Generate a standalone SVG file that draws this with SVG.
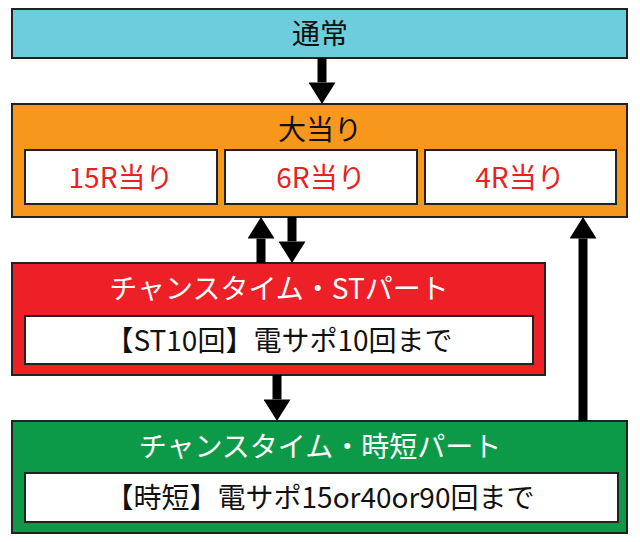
<svg xmlns="http://www.w3.org/2000/svg" width="640" height="542" viewBox="0 0 640 542">
<style>
.b{stroke:#222;stroke-width:2}
.w{fill:#fff;stroke:#222;stroke-width:2}
text{font-family:"Noto Sans CJK JP","Noto Sans",sans-serif;text-anchor:middle;font-size:28px}
.k{fill:#111}.r{fill:#e8231f}.wt{fill:#fff}
</style>
<defs><marker id="a" markerWidth="2.4" markerHeight="3" refX="0" refY="1.5" orient="auto" markerUnits="strokeWidth"><path d="M0,0L2.4,1.5L0,3z" fill="#000"/></marker></defs>
<g id="tsujo"><rect class="b" x="12" y="9" width="615" height="49" fill="#6ecddd"/><text class="k" x="320" y="44">通常</text></g>
<g id="ooatari"><rect class="b" x="12" y="104" width="615" height="113" fill="#f7981d"/><text class="k" x="320" y="140">大当り</text>
<rect class="w" x="25" y="150" width="192" height="54"/><text class="r" x="121" y="188">15R当り</text>
<rect class="w" x="225" y="150" width="192" height="54"/><text class="r" x="321" y="188">6R当り</text>
<rect class="w" x="425" y="150" width="191" height="54"/><text class="r" x="520" y="188">4R当り</text></g>
<g id="st"><rect class="b" x="12" y="263" width="533" height="112" fill="#ec2026"/><text class="wt" x="279" y="299">チャンスタイム・STパート</text>
<rect class="w" x="25" y="316" width="508" height="48"/><text class="k" x="279" y="351">【ST10回】電サポ10回まで</text></g>
<g id="jitan"><rect class="b" x="12" y="421" width="615" height="112" fill="#0d9a48"/><text class="wt" x="320" y="457">チャンスタイム・時短パート</text>
<rect class="w" x="25" y="473" width="593" height="49"/><text class="k" x="320" y="508">【時短】電サポ15or40or90回まで</text></g>
<g id="connectors" stroke="#000" stroke-width="9" marker-end="url(#a)">
<line x1="322" y1="58" x2="322" y2="82.4"/>
<line x1="261" y1="263" x2="261" y2="238.6"/>
<line x1="292" y1="217" x2="292" y2="241.4"/>
<line x1="583" y1="421" x2="583" y2="238.6"/>
<line x1="277" y1="375" x2="277" y2="399.4"/>
</g>
</svg>
